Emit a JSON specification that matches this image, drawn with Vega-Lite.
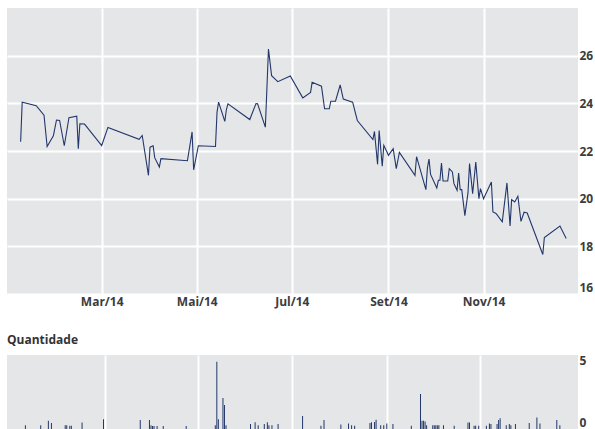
{
  "$schema": "https://vega.github.io/schema/vega-lite/v6.json",
  "padding": {"left": 7, "top": 8, "right": 0, "bottom": 0},
  "background": "white",
  "spacing": 27,
  "datasets": {
    "preco": [
      {"d":"2014-01-08","v":22.39},{"d":"2014-01-09","v":24.05},{"d":"2014-01-18","v":23.9},{"d":"2014-01-23","v":23.5},
      {"d":"2014-01-25","v":22.19},{"d":"2014-01-29","v":22.64},{"d":"2014-01-31","v":23.3},{"d":"2014-02-02","v":23.28},
      {"d":"2014-02-05","v":22.22},{"d":"2014-02-08","v":23.4},{"d":"2014-02-13","v":23.46},{"d":"2014-02-14","v":22.1},
      {"d":"2014-02-15","v":23.14},{"d":"2014-02-18","v":23.13},{"d":"2014-03-01","v":22.23},{"d":"2014-03-05","v":22.99},
      {"d":"2014-03-25","v":22.49},{"d":"2014-03-27","v":22.65},{"d":"2014-03-31","v":20.98},{"d":"2014-04-01","v":22.16},
      {"d":"2014-04-03","v":22.22},{"d":"2014-04-04","v":21.72},{"d":"2014-04-07","v":21.33},{"d":"2014-04-08","v":21.68},
      {"d":"2014-04-25","v":21.59},{"d":"2014-04-28","v":22.8},{"d":"2014-04-29","v":21.21},{"d":"2014-05-02","v":22.22},
      {"d":"2014-05-13","v":22.19},{"d":"2014-05-14","v":23.63},{"d":"2014-05-15","v":24.05},{"d":"2014-05-19","v":23.24},
      {"d":"2014-05-20","v":23.74},{"d":"2014-05-21","v":23.98},{"d":"2014-06-04","v":23.32},{"d":"2014-06-08","v":23.99},
      {"d":"2014-06-09","v":23.98},{"d":"2014-06-14","v":23.0},{"d":"2014-06-16","v":26.28},{"d":"2014-06-18","v":25.16},
      {"d":"2014-06-22","v":24.91},{"d":"2014-06-30","v":25.15},{"d":"2014-07-08","v":24.23},{"d":"2014-07-13","v":24.46},
      {"d":"2014-07-14","v":24.88},{"d":"2014-07-20","v":24.72},{"d":"2014-07-22","v":23.77},{"d":"2014-07-25","v":23.77},
      {"d":"2014-07-26","v":24.09},{"d":"2014-07-29","v":24.09},{"d":"2014-08-01","v":24.77},{"d":"2014-08-03","v":24.18},
      {"d":"2014-08-09","v":24.05},{"d":"2014-08-12","v":23.28},{"d":"2014-08-22","v":22.48},{"d":"2014-08-23","v":22.82},
      {"d":"2014-08-25","v":21.44},{"d":"2014-08-26","v":22.86},{"d":"2014-08-28","v":21.36},{"d":"2014-08-29","v":22.24},
      {"d":"2014-09-01","v":21.82},{"d":"2014-09-04","v":22.1},{"d":"2014-09-06","v":21.26},{"d":"2014-09-08","v":21.94},
      {"d":"2014-09-18","v":20.98},{"d":"2014-09-19","v":21.76},{"d":"2014-09-25","v":20.38},{"d":"2014-09-26","v":21.3},
      {"d":"2014-09-27","v":21.66},{"d":"2014-09-28","v":21.02},{"d":"2014-10-02","v":20.45},{"d":"2014-10-03","v":20.77},
      {"d":"2014-10-04","v":20.77},{"d":"2014-10-05","v":21.49},{"d":"2014-10-06","v":20.74},{"d":"2014-10-09","v":20.74},
      {"d":"2014-10-10","v":21.26},{"d":"2014-10-12","v":21.12},{"d":"2014-10-13","v":20.63},{"d":"2014-10-15","v":20.35},
      {"d":"2014-10-16","v":21.08},{"d":"2014-10-17","v":20.38},{"d":"2014-10-18","v":20.38},{"d":"2014-10-20","v":19.29},
      {"d":"2014-10-22","v":20.24},{"d":"2014-10-23","v":21.47},{"d":"2014-10-25","v":20.21},{"d":"2014-10-27","v":21.54},
      {"d":"2014-10-29","v":20.0},{"d":"2014-10-30","v":20.42},{"d":"2014-11-01","v":20.0},{"d":"2014-11-06","v":20.7},
      {"d":"2014-11-07","v":19.44},{"d":"2014-11-09","v":19.38},{"d":"2014-11-13","v":19.03},{"d":"2014-11-16","v":20.66},
      {"d":"2014-11-18","v":18.85},{"d":"2014-11-19","v":19.96},{"d":"2014-11-21","v":19.86},{"d":"2014-11-23","v":20.1},
      {"d":"2014-11-25","v":19.05},{"d":"2014-11-27","v":19.43},{"d":"2014-11-29","v":19.4},{"d":"2014-12-09","v":17.66},
      {"d":"2014-12-10","v":18.37},{"d":"2014-12-20","v":18.85},{"d":"2014-12-24","v":18.33}
    ],
    "qtd": [
      {"d":"2014-01-08","q":0.26},{"d":"2014-01-18","q":0.26},{"d":"2014-01-23","q":0.55},{"d":"2014-01-25","q":0.4},
      {"d":"2014-02-03","q":0.26},{"d":"2014-02-04","q":0.26},{"d":"2014-02-06","q":0.22},{"d":"2014-02-07","q":0.22},
      {"d":"2014-02-14","q":0.44},{"d":"2014-02-28","q":0.66},{"d":"2014-03-24","q":0.6},{"d":"2014-03-30","q":0.6},
      {"d":"2014-03-31","q":0.26},{"d":"2014-04-01","q":0.2},{"d":"2014-04-02","q":0.2},{"d":"2014-04-04","q":0.2},
      {"d":"2014-04-08","q":0.2},{"d":"2014-04-23","q":0.2},{"d":"2014-05-12","q":0.26},{"d":"2014-05-13","q":4.54},
      {"d":"2014-05-14","q":0.66},{"d":"2014-05-17","q":2.09},{"d":"2014-05-18","q":1.63},{"d":"2014-05-19","q":0.26},
      {"d":"2014-06-04","q":0.33},{"d":"2014-06-07","q":0.46},{"d":"2014-06-09","q":0.26},{"d":"2014-06-13","q":0.33},
      {"d":"2014-06-15","q":0.46},{"d":"2014-06-16","q":0.26},{"d":"2014-06-18","q":0.26},{"d":"2014-06-22","q":0.33},
      {"d":"2014-07-08","q":0.88},{"d":"2014-07-20","q":0.22},{"d":"2014-07-22","q":0.6},{"d":"2014-08-02","q":0.3},
      {"d":"2014-08-07","q":0.37},{"d":"2014-08-09","q":0.26},{"d":"2014-08-11","q":0.22},{"d":"2014-08-21","q":0.4},
      {"d":"2014-08-22","q":0.46},{"d":"2014-08-24","q":0.48},{"d":"2014-08-25","q":0.62},{"d":"2014-08-28","q":0.26},
      {"d":"2014-08-30","q":0.26},{"d":"2014-09-01","q":0.37},{"d":"2014-09-05","q":0.33},{"d":"2014-09-17","q":0.22},
      {"d":"2014-09-23","q":2.37},{"d":"2014-09-24","q":0.55},{"d":"2014-09-25","q":0.55},{"d":"2014-09-26","q":0.5},
      {"d":"2014-09-27","q":0.26},{"d":"2014-10-01","q":0.26},{"d":"2014-10-02","q":0.26},{"d":"2014-10-03","q":0.26},
      {"d":"2014-10-04","q":0.26},{"d":"2014-10-05","q":0.26},{"d":"2014-10-08","q":0.26},{"d":"2014-10-15","q":0.22},
      {"d":"2014-10-24","q":0.44},{"d":"2014-10-25","q":0.44},{"d":"2014-10-28","q":0.22},{"d":"2014-10-29","q":0.22},
      {"d":"2014-10-31","q":0.22},{"d":"2014-11-05","q":0.22},{"d":"2014-11-07","q":0.37},{"d":"2014-11-08","q":0.33},
      {"d":"2014-11-12","q":0.33},{"d":"2014-11-13","q":0.6},{"d":"2014-11-14","q":0.72},{"d":"2014-11-18","q":0.26},
      {"d":"2014-11-20","q":0.33},{"d":"2014-11-21","q":0.26},{"d":"2014-11-24","q":0.33},{"d":"2014-12-03","q":0.4},
      {"d":"2014-12-08","q":0.77},{"d":"2014-12-10","q":0.37},{"d":"2014-12-21","q":0.6},{"d":"2014-12-23","q":0.26}
    ]
  },
  "vconcat": [
    {
      "width": 571,
      "height": 286,
      "data": {"name": "preco"},
      "mark": {"type": "line", "color": "#22376b", "strokeWidth": 1.1},
      "encoding": {
        "x": {
          "field": "d", "type": "temporal",
          "scale": {"type": "utc", "domain": [{"year": 2013, "month": 12, "date": 30, "hours": 6, "utc": true}, {"year": 2014, "month": 12, "date": 31, "hours": 14, "utc": true}]},
          "axis": {
            "title": null,
            "values": [
              {"year": 2014, "month": 3, "date": 1, "utc": true},
              {"year": 2014, "month": 5, "date": 1, "utc": true},
              {"year": 2014, "month": 7, "date": 1, "utc": true},
              {"year": 2014, "month": 9, "date": 1, "utc": true},
              {"year": 2014, "month": 11, "date": 1, "utc": true}
            ],
            "labelExpr": "['Jan','Fev','Mar','Abr','Mai','Jun','Jul','Ago','Set','Out','Nov','Dez'][utcmonth(datum.value)] + '/' + utcFormat(datum.value, '%y')",
            "grid": true, "gridColor": "#ffffff", "gridWidth": 2, "gridOpacity": 1,
            "ticks": false, "domain": false,
            "labelFont": "Open Sans", "labelFontWeight": "bold", "labelFontSize": 12, "labelColor": "#3c3c3c",
            "labelPadding": 2
          }
        },
        "y": {
          "field": "v", "type": "quantitative",
          "scale": {"domain": [16, 28], "nice": false, "zero": false},
          "axis": {
            "orient": "right", "title": null,
            "values": [16, 18, 20, 22, 24, 26],
            "grid": true, "gridColor": "#ffffff", "gridWidth": 2, "gridOpacity": 1,
            "ticks": false, "domain": false, "labelFlush": true,
            "labelFont": "Open Sans", "labelFontWeight": "bold", "labelFontSize": 12, "labelColor": "#3c3c3c",
            "labelPadding": 1
          }
        }
      }
    },
    {
      "width": 571,
      "height": 74,
      "title": {"text": "Quantidade", "anchor": "start", "frame": "group", "font": "Open Sans", "fontSize": 12, "fontWeight": "bold", "color": "#333333", "offset": 7},
      "data": {"name": "qtd"},
      "mark": {"type": "bar", "color": "#22376b", "size": 1},
      "encoding": {
        "x": {
          "field": "d", "type": "temporal",
          "scale": {"type": "utc", "domain": [{"year": 2013, "month": 12, "date": 30, "hours": 6, "utc": true}, {"year": 2014, "month": 12, "date": 31, "hours": 14, "utc": true}]},
          "axis": {
            "title": null,
            "values": [
              {"year": 2014, "month": 3, "date": 1, "utc": true},
              {"year": 2014, "month": 5, "date": 1, "utc": true},
              {"year": 2014, "month": 7, "date": 1, "utc": true},
              {"year": 2014, "month": 9, "date": 1, "utc": true},
              {"year": 2014, "month": 11, "date": 1, "utc": true}
            ],
            "labels": false,
            "grid": true, "gridColor": "#ffffff", "gridWidth": 2, "gridOpacity": 1,
            "ticks": false, "domain": false
          }
        },
        "y": {
          "field": "q", "type": "quantitative",
          "scale": {"domain": [0, 5], "nice": false},
          "axis": {
            "orient": "right", "title": null,
            "values": [0, 5],
            "grid": false,
            "ticks": false, "domain": false, "labelFlush": true,
            "labelFont": "Open Sans", "labelFontWeight": "bold", "labelFontSize": 12, "labelColor": "#3c3c3c",
            "labelPadding": 1
          }
        }
      }
    }
  ],
  "config": {
    "view": {"fill": "#e5e6e8", "stroke": null},
    "font": "Open Sans"
  }
}
